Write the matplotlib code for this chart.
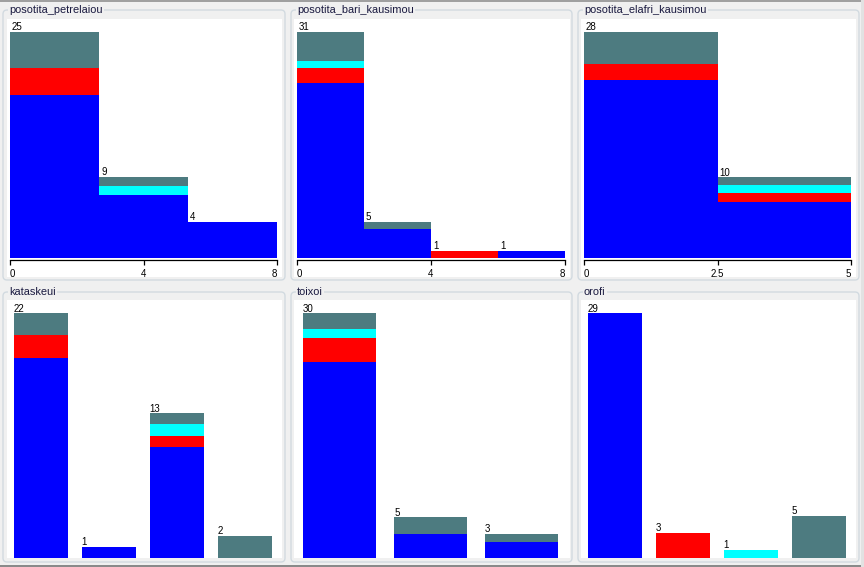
"""Weka-style 'visualize all' class histograms, 2x3 panels."""
import matplotlib
matplotlib.use("Agg")
import matplotlib.pyplot as plt
import matplotlib.transforms as mtransforms
from matplotlib.patches import FancyBboxPatch, Rectangle

W, H = 864, 567
BG = "#f0f0f0"
FONT = "Liberation Sans"

# class colours (orofi classes): blue, red, cyan, teal
CLASS_COLORS = ["#0000ff", "#ff0000", "#00ffff", "#4d7b80"]

# numeric attributes: bin edges + counts per class (rows = class, cols = bin)
petrelaiou_edges = [0, 2.667, 5.333, 8]
petrelaiou = [[18, 7, 4], [3, 0, 0], [0, 1, 0], [4, 1, 0]]
petrelaiou_ticks = [0, 4, 8]

bari_edges = [0, 2, 4, 6, 8]
bari = [[24, 4, 0, 1], [2, 0, 1, 0], [1, 0, 0, 0], [4, 1, 0, 0]]
bari_ticks = [0, 4, 8]

elafri_edges = [0, 2.5, 5]
elafri = [[22, 7], [2, 1], [0, 1], [4, 1]]
elafri_ticks = [0, 2.5, 5]

# nominal attributes: counts per class per value
kataskeui = [[18, 1, 10, 0], [2, 0, 1, 0], [0, 0, 1, 0], [2, 0, 1, 2]]
toixoi = [[24, 3, 2], [3, 0, 0], [1, 0, 0], [2, 2, 1]]
orofi = [[29, 0, 0, 0], [0, 3, 0, 0], [0, 0, 1, 0], [0, 0, 0, 5]]

PANELS = [
    ("posotita_petrelaiou", petrelaiou, petrelaiou_edges, petrelaiou_ticks),
    ("posotita_bari_kausimou", bari, bari_edges, bari_ticks),
    ("posotita_elafri_kausimou", elafri, elafri_edges, elafri_ticks),
    ("kataskeui", kataskeui, None, None),
    ("toixoi", toixoi, None, None),
    ("orofi", orofi, None, None),
]

# pixel layout
BORDER_X = [(3, 285), (291, 572), (578, 859)]
BORDER_Y = [(10, 280), (292, 562)]
WHITE_X = [(7, 282), (294, 570), (581, 856)]
WHITE_Y = [(19, 277), (300, 558)]
HIST_BASE = 258  # bottom of histogram bars (top row)


def fax(x0, y0, x1, y1):
    return [x0 / W, 1 - y1 / H, (x1 - x0) / W, (y1 - y0) / H]


fig = plt.figure(figsize=(W / 100, H / 100), dpi=100, facecolor=BG)
bg = fig.add_axes([0, 0, 1, 1])
bg.set_xlim(0, W)
bg.set_ylim(H, 0)
bg.axis("off")

# window edge lines
bg.add_patch(Rectangle((0, 0), W, 1.5, fc="#a0a0a0", ec="none"))
bg.add_patch(Rectangle((0, 565), W, 2, fc="#8a8a8a", ec="none"))
bg.add_patch(Rectangle((861, 0), 3, H, fc="#e2e2e2", ec="none"))


def stacked(ax, xs, widths, counts, align):
    bottom = [0] * len(xs)
    for cls, row in enumerate(counts):
        ax.bar(xs, row, width=widths, bottom=bottom, color=CLASS_COLORS[cls],
               align=align, linewidth=0)
        bottom = [b + r for b, r in zip(bottom, row)]
    return bottom


for i, (title, counts, edges, ticks) in enumerate(PANELS):
    r, c = divmod(i, 3)
    bx0, bx1 = BORDER_X[c]
    by0, by1 = BORDER_Y[r]
    wx0, wx1 = WHITE_X[c]
    wy0, wy1 = WHITE_Y[r]

    bg.add_patch(FancyBboxPatch((bx0, by0), bx1 - bx0, by1 - by0,
                                boxstyle="round,pad=0,rounding_size=4",
                                fc="none", ec="#d2dae0", lw=1.0))
    bg.add_patch(Rectangle((wx0, wy0), wx1 - wx0, wy1 - wy0, fc="white", ec="none"))
    bg.text(bx0 + 6, by0, title, ha="left", va="center", fontsize=7.9,
            family=FONT, color="#1a1a40",
            bbox=dict(fc=BG, ec="none", pad=1.0))

    if edges is not None:
        ax = fig.add_axes(fax(wx0 + 3, wy0, wx1 - 5, HIST_BASE))
        lefts = edges[:-1]
        widths = [b - a for a, b in zip(edges[:-1], edges[1:])]
        totals = stacked(ax, lefts, widths, counts, "edge")
        ax.set_xlim(edges[0], edges[-1])
        ax.set_ylim(0, max(totals) * (HIST_BASE - wy0) / (HIST_BASE - wy0 - 13))
        for s in ("left", "right", "top"):
            ax.spines[s].set_visible(False)
        ax.spines["bottom"].set_position(("outward", 1.44))
        ax.spines["bottom"].set_linewidth(0.9)
        ax.set_yticks([])
        ax.set_xticks(ticks)
        ax.set_xticklabels([f"{t:g}" for t in ticks], fontsize=7, family=FONT)
        ax.tick_params(axis="x", length=3.8, width=0.9, pad=2.5, colors="black")
        labs = ax.get_xticklabels()
        labs[0].set_ha("left")
        labs[-1].set_ha("right")
        dx = 2
    else:
        ax = fig.add_axes(fax(wx0, wy0, wx1 - 3, wy1))
        xs = list(range(len(counts[0])))
        totals = stacked(ax, xs, 0.8, counts, "center")
        ax.set_xlim(-0.5, len(xs) - 0.5)
        ax.set_ylim(0, max(totals) * (wy1 - wy0) / (wy1 - wy0 - 13))
        ax.axis("off")
        lefts = [x - 0.4 for x in xs]
        dx = 0

    ax.patch.set_visible(False)
    trans = mtransforms.offset_copy(ax.transData, fig=fig, x=dx, y=1.5, units="dots")
    for x, t in zip(lefts, totals):
        if t > 0:
            ax.text(x, t, str(t), transform=trans, ha="left", va="baseline",
                    fontsize=7, family=FONT, color="black", clip_on=False)

fig.savefig("out.png", dpi=100, facecolor=BG)
